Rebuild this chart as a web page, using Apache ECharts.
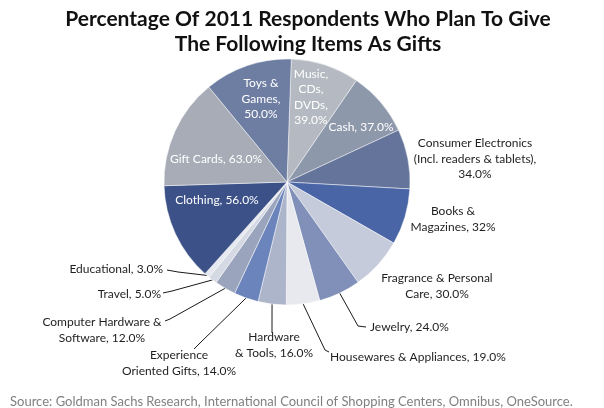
<!DOCTYPE html>
<html>
<head>
<meta charset="utf-8">
<script src="https://cdn.jsdelivr.net/npm/echarts@6/dist/echarts.min.js"></script>
<style>html,body{margin:0;padding:0;background:#fff}#c{width:604px;height:408px}</style>
</head>
<body>
<div id="c"></div>
<script>
// Data (clockwise from top)
const categories = ['Music, CDs, DVDs','Cash','Consumer Electronics (Incl. readers & tablets)','Books & Magazines','Fragrance & Personal Care','Jewelry','Housewares & Appliances','Hardware & Tools','Experience Oriented Gifts','Computer Hardware & Software','Travel','Educational','Clothing','Gift Cards','Toys & Games'];
const values = [39, 37, 34, 32, 30, 24, 19, 16, 14, 12, 5, 3, 56, 63, 50];
const labels = ['Music,\nCDs,\nDVDs,\n39.0%','Cash, 37.0%','Consumer Electronics\n(Incl. readers & tablets),\n34.0%','Books &\nMagazines, 32%','Fragrance & Personal\nCare, 30.0%','Jewelry, 24.0%','Housewares & Appliances, 19.0%','Hardware\n& Tools, 16.0%','Experience\nOriented Gifts, 14.0%','Computer Hardware &\nSoftware, 12.0%','Travel, 5.0%','Educational, 3.0%','Clothing, 56.0%','Gift Cards, 63.0%','Toys &\nGames,\n50.0%'];
const titleText = 'Percentage Of 2011 Respondents Who Plan To Give\nThe Following Items As Gifts';
const sourceText = 'Source: Goldman Sachs Research, International Council of Shopping Centers, Omnibus, OneSource.';

// Styling / layout
const colors = ['#b5b9c1','#8e98ab','#64749a','#4a65a5','#c5cbdb','#8090b8','#e8e9ef','#adb5cb','#6b84bb','#9aa4bd','#d4d9e4','#e5e8ee','#3c5188','#a7acb7','#6e7ea2'];
const inside = [true,true,false,false,false,false,false,false,false,false,false,false,true,true,true];
// [x, y, align, kinkPoint, endPoint]
const labelPos = [
  [311, 97, 'center'],
  [361, 127, 'center'],
  [475, 159, 'center'],
  [453, 219, 'center'],
  [437, 286, 'center'],
  [370, 327, 'left', [358, 326], [366, 327]],
  [330, 357, 'left', [325, 350], [329, 352]],
  [274, 345, 'center', [272, 318], [272, 333]],
  [179, 363, 'center', [200, 343], [194, 349]],
  [102, 330, 'center', [170, 319], [165, 321]],
  [161, 294, 'right', [172, 291], [163, 293]],
  [163, 269, 'right', [178, 272], [167, 270]],
  [217, 200, 'center'],
  [216, 159, 'center'],
  [261, 99, 'center']
];
const hasLine = [false,false,false,false,false,true,true,true,true,true,true,true,false,false,false];

const data = categories.map((name, i) => ({
  name: name,
  value: values[i],
  itemStyle: { color: colors[i] },
  label: {
    formatter: labels[i],
    color: inside[i] ? '#ffffff' : '#1f1f1f'
  },
  labelLine: { show: hasLine[i] }
}));

const chart = echarts.init(document.getElementById('c'), null, { renderer: 'canvas' });
chart.setOption({
  backgroundColor: '#ffffff',
  animation: false,
  title: [{
    text: titleText,
    left: 303,
    top: 2,
    textAlign: 'center',
    textStyle: { fontFamily: 'Lato', fontWeight: 'bold', fontSize: 21, lineHeight: 25, color: '#111' }
  }, {
    text: sourceText,
    left: 5,
    top: 390,
    textStyle: { fontFamily: 'Lato', fontWeight: 'normal', fontSize: 13, color: '#808080' }
  }],
  series: [{
    type: 'pie',
    center: [287, 182],
    radius: 123,
    startAngle: 88,
    clockwise: true,
    avoidLabelOverlap: false,
    itemStyle: { borderColor: 'rgba(255,255,255,0.6)', borderWidth: 0.8 },
    label: {
      show: true,
      position: 'outside',
      fontFamily: 'Lato',
      fontSize: 12,
      lineHeight: 15.5
    },
    labelLine: {
      show: true,
      length: 10,
      length2: 10,
      lineStyle: { color: '#1a1a1a', width: 1 }
    },
    labelLayout: function (p) {
      const pos = labelPos[p.dataIndex];
      const out = { x: pos[0], y: pos[1], align: pos[2], verticalAlign: 'middle' };
      if (pos[3] && p.labelLinePoints) {
        out.labelLinePoints = [p.labelLinePoints[0], pos[3], pos[4]];
      }
      return out;
    },
    data: data
  }]
});
</script>
</body>
</html>
